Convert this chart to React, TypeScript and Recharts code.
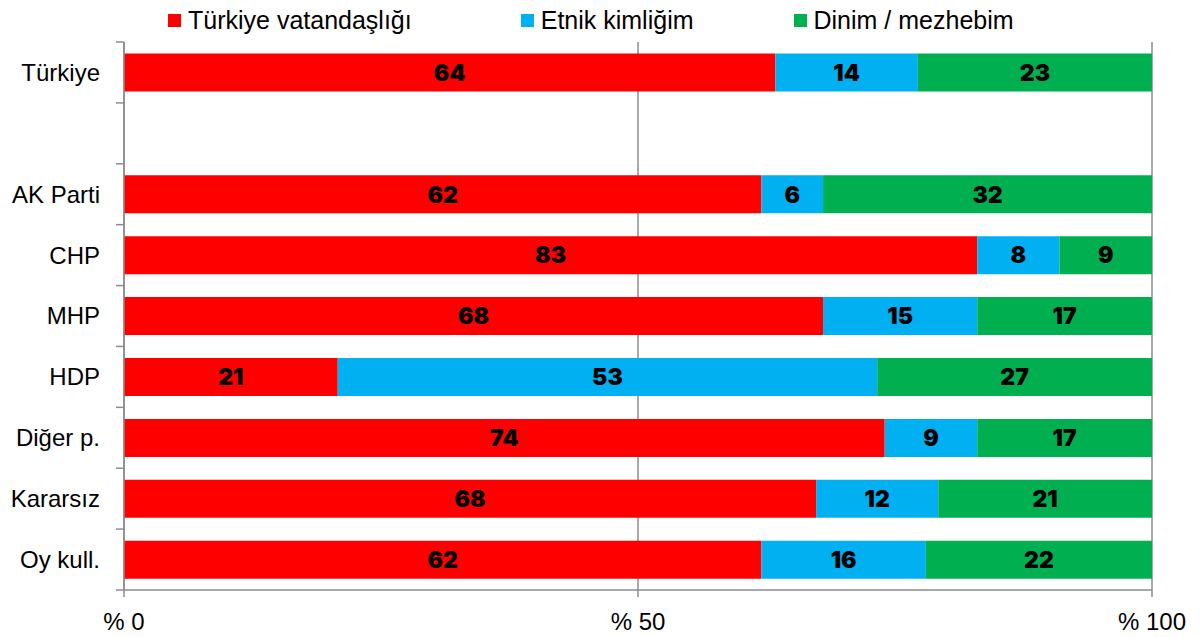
import { BarChart, Bar, XAxis, YAxis, CartesianGrid, Legend, LabelList } from 'recharts'

const categories = ['Türkiye', '', 'AK Parti', 'CHP', 'MHP', 'HDP', 'Diğer p.', 'Kararsız', 'Oy kull.']
const citizenship = [64, null, 62, 83, 68, 21, 74, 68, 62]
const ethnic = [14, null, 6, 8, 15, 53, 9, 12, 16]
const religion = [23, null, 32, 9, 17, 27, 17, 21, 22]
const seriesNames = ['Türkiye vatandaşlığı', 'Etnik kimliğim', 'Dinim / mezhebim']
const seriesColors = ['#FF0000', '#00B0F0', '#00B050']
const xTicks = [0, 50, 100]

const data = categories.map((name, i) => ({
  name,
  a: citizenship[i],
  b: ethnic[i],
  c: religion[i],
}))

const W = 1202
const H = 637
const TOP = 42
const BOTTOM = 590
const AXIS_GRAY = '#8c8c8c'
const FONT = '"Liberation Sans", Arial, sans-serif'
const band = (BOTTOM - TOP) / categories.length
const legendGaps = [168, 109, 100]

function CategoryTick(props: any) {
  const { x, y, payload, index } = props
  const lx = x + 16
  return (
    <g>
      <text x={x} y={y} dy="0.35em" textAnchor="end" fontFamily={FONT} fontSize={24} fill="#000">
        {payload.value}
      </text>
      <line x1={lx} x2={lx + 8} y1={y - band / 2} y2={y - band / 2} stroke={AXIS_GRAY} strokeWidth={1.5} />
      {index === categories.length - 1 && (
        <line x1={lx} x2={lx + 8} y1={y + band / 2} y2={y + band / 2} stroke={AXIS_GRAY} strokeWidth={1.5} />
      )}
    </g>
  )
}

function LegendContent(){
  return (
    <div style={{ display: 'flex', height: 34, fontFamily: FONT, fontSize: 25, color: '#000' }}>
      {seriesNames.map((n, i) => (
        <div key={n} style={{ display: 'flex', alignItems: 'center', height: 24, marginLeft: legendGaps[i] }}>
          <span style={{ width: 13, height: 13, background: seriesColors[i], marginRight: 7, display: 'inline-block' }} />
          <span>{n}</span>
        </div>
      ))}
    </div>
  )
}

const labelProps = {
  position: 'center' as const,
  fill: '#000',
  fontSize: 23,
  fontWeight: 900,
  fontFamily: 'Inter, "DejaVu Sans", sans-serif',
  formatter: (v: any) => (v == null ? '' : v),
}

export default function App(){
  return (
    <div style={{ position: 'absolute', left: 0, top: 0, width: W, height: H, background: '#fff' }}>
      <BarChart
        width={W}
        height={H}
        data={data}
        layout="vertical"
        stackOffset="expand"
        barCategoryGap="19%"
        margin={{ top: 8, right: 50, bottom: 0, left: 0 }}
      >
        <Legend verticalAlign="top" content={<LegendContent />} wrapperStyle={{ left: 0, width: W }} />
        <CartesianGrid horizontal={false} stroke={AXIS_GRAY} strokeWidth={1.5} strokeOpacity={1} />
        <XAxis
          type="number"
          domain={[0, 1]}
          ticks={xTicks.map(t => t / 100)}
          tickFormatter={(v) => `% ${Math.round(v * 100)}`}
          height={47}
          tickSize={7}
          tickMargin={16}
          axisLine={{ stroke: AXIS_GRAY, strokeWidth: 1.5 }}
          tickLine={{ stroke: AXIS_GRAY, strokeWidth: 1.5 }}
          tick={{ fontFamily: FONT, fontSize: 24, fill: '#000' }}
        />
        <YAxis
          type="category"
          dataKey="name"
          width={124}
          tickLine={false}
          tickSize={8}
          tickMargin={16}
          axisLine={{ stroke: AXIS_GRAY, strokeWidth: 1.5 }}
          tick={<CategoryTick />}
          interval={0}
        />
        <Bar dataKey="a" stackId="s" fill={seriesColors[0]} isAnimationActive={false}>
          <LabelList dataKey="a" {...labelProps} />
        </Bar>
        <Bar dataKey="b" stackId="s" fill={seriesColors[1]} isAnimationActive={false}>
          <LabelList dataKey="b" {...labelProps} />
        </Bar>
        <Bar dataKey="c" stackId="s" fill={seriesColors[2]} isAnimationActive={false}>
          <LabelList dataKey="c" {...labelProps} />
        </Bar>
      </BarChart>
    </div>
  )
}
